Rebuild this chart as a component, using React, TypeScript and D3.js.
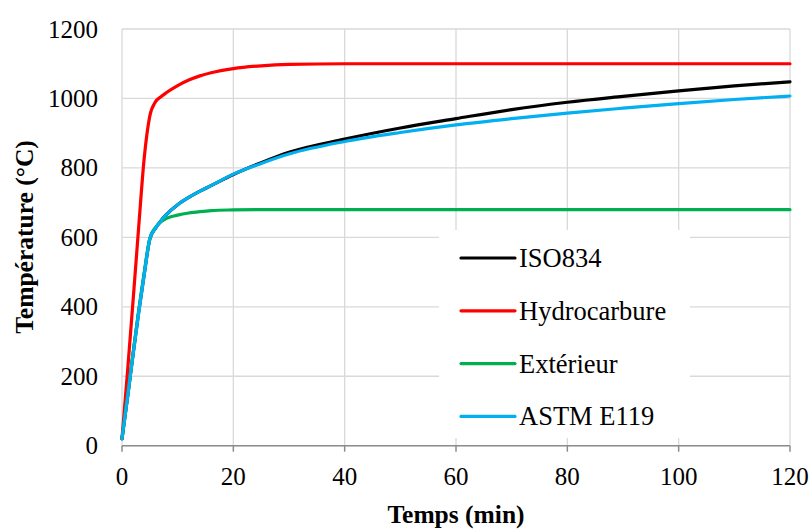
import React from "react";
import * as d3 from "d3";

const time = [0, 1, 2, 3, 4, 5, 6, 7, 8, 10, 12, 14, 16, 20, 25, 30, 40, 50, 60, 70, 80, 90, 100, 110, 120];
const iso834 = [20, 140, 265, 385, 495, 595, 626, 648, 666, 694, 715, 733, 749, 781, 815, 845, 883, 915, 942, 968, 989, 1006, 1022, 1036, 1048];
const hydrocarbure = [20, 215, 420, 630, 830, 950, 990, 1005, 1017, 1037, 1053, 1065, 1074, 1086, 1094, 1098, 1100, 1100, 1100, 1100, 1100, 1100, 1100, 1100, 1100];
const exterieur = [20, 142, 268, 390, 500, 598, 628, 645, 655, 664, 670, 674, 677, 679, 680, 680, 680, 680, 680, 680, 680, 680, 680, 680, 680];
const astm = [20, 140, 263, 383, 493, 595, 626, 648, 666, 694, 715, 733, 749, 782, 813, 840, 876, 902, 924, 942, 958, 972, 985, 997, 1007];

const xTicks = [0, 20, 40, 60, 80, 100, 120];
const yTicks = [0, 200, 400, 600, 800, 1000, 1200];

const seriesNames = ["ISO834", "Hydrocarbure", "Extérieur", "ASTM E119"];
const seriesColors = ["#000000", "#FF0000", "#00B050", "#00B0F0"];
const seriesValues = [iso834, hydrocarbure, exterieur, astm];

export default function App() {
  const W = 811, H = 529;
  const x = d3.scaleLinear().domain([0, 120]).range([122, 790]);
  const y = d3.scaleLinear().domain([0, 1200]).range([445.7, 29]);
  const font = "'Liberation Serif', 'Times New Roman', serif";

  const line = (vals: number[]) =>
    d3.line<number>()
      .x((_, i) => x(time[i]))
      .y((v) => y(v))
      .curve(d3.curveMonotoneX)(vals) || "";

  const legendX = 461;
  const legendY0 = 258;
  const legendDy = 52.8;

  return (
    <svg width={W} height={H} style={{ position: "absolute", left: 0, top: 0, background: "#fff" }}>
      <rect x={0} y={0} width={W} height={H} fill="#fff" />
      {yTicks.map((t) => (
        <line key={"gy" + t} x1={x(0)} x2={x(120)} y1={y(t)} y2={y(t)} stroke="#D9D9D9" strokeWidth={1.3} />
      ))}
      {xTicks.map((t) => (
        <line key={"gx" + t} x1={x(t)} x2={x(t)} y1={y(0)} y2={y(1200)} stroke="#D9D9D9" strokeWidth={1.3} />
      ))}
      {seriesValues.map((vals, i) => (
        <path key={"s" + i} d={line(vals)} fill="none" stroke={seriesColors[i]} strokeWidth={3.2} strokeLinejoin="round" strokeLinecap="round" />
      ))}
      <line x1={x(0)} x2={x(120)} y1={y(0)} y2={y(0)} stroke="#8C8C8C" strokeWidth={1.5} />
      {xTicks.map((t) => (
        <line key={"tx" + t} x1={x(t)} x2={x(t)} y1={y(0)} y2={y(0) + 6} stroke="#8C8C8C" strokeWidth={1.5} />
      ))}
      {xTicks.map((t) => (
        <text key={"lx" + t} x={x(t)} y={485} textAnchor="middle" fontFamily={font} fontSize={25} fill="#000">{t}</text>
      ))}
      {yTicks.map((t) => (
        <text key={"ly" + t} x={98} y={y(t) + 8.5} textAnchor="end" fontFamily={font} fontSize={25} fill="#000">{t}</text>
      ))}
      <rect x={439} y={230} width={251} height={208} fill="#fff" />
      {seriesNames.map((n, i) => (
        <g key={"lg" + i}>
          <line x1={legendX} x2={legendX + 54} y1={legendY0 + i * legendDy} y2={legendY0 + i * legendDy} stroke={seriesColors[i]} strokeWidth={3.2} strokeLinecap="round" />
          <text x={519} y={legendY0 + i * legendDy + 9} fontFamily={font} fontSize={26.5} fill="#000">{n}</text>
        </g>
      ))}
      <text x={456} y={523} textAnchor="middle" fontFamily={font} fontSize={25.5} fontWeight="bold" fill="#000">Temps (min)</text>
      <text transform={`translate(33, 237) rotate(-90)`} textAnchor="middle" fontFamily={font} fontSize={25.5} fontWeight="bold" fill="#000">Température (°C)</text>
    </svg>
  );
}
